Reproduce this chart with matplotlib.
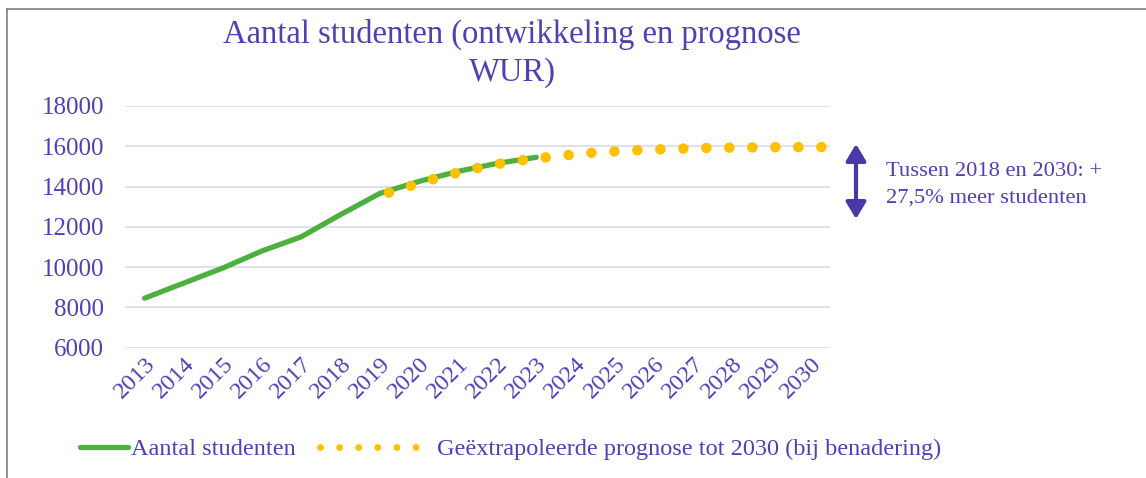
import matplotlib
matplotlib.use("Agg")
import matplotlib.pyplot as plt
from matplotlib.lines import Line2D
from matplotlib.patches import FancyArrowPatch

# student numbers per year (realised) and the extrapolated forecast up to 2030
years = [2013, 2014, 2015, 2016, 2017, 2018, 2019, 2020, 2021, 2022, 2023]
students = [8450, 9200, 9950, 10800, 11500, 12600, 13650, 14250, 14750, 15150, 15450]

prog_years = [2019, 2020, 2021, 2022, 2023, 2024, 2025, 2026, 2027, 2028, 2029, 2030]
prognosis = [13700, 14300, 14820, 15210, 15450, 15660, 15780, 15860, 15915, 15940, 15955, 15960]

all_years = list(range(2013, 2031))
y_ticks = [6000, 8000, 10000, 12000, 14000, 16000, 18000]

title = "Aantal studenten (ontwikkeling en prognose\nWUR)"
note = "Tussen 2018 en 2030: +\n27,5% meer studenten"

PURPLE = "#5040B0"
ARROW = "#4A38A8"
GREEN = "#4CAF3E"
GOLD = "#FFC000"
GRID = "#DCD8F0"

plt.rcParams["font.family"] = ["Liberation Serif", "DejaVu Serif"]

fig = plt.figure(figsize=(11.46, 4.78), dpi=100)
ax = fig.add_axes([125 / 1146, 1 - 347.5 / 478, 705 / 1146, 241.5 / 478])

ax.plot(years, students, color=GREEN, lw=3.8, solid_capstyle="round",
        solid_joinstyle="round", zorder=3)

# forecast on its own x-scale, drawn as round dots
ax2 = ax.twiny()
ax2.plot(prog_years, prognosis, color=GOLD, lw=7.6,
         linestyle=(0, (0.001, 2.178)), dash_capstyle="round", zorder=4)
ax2.set_xlim(2012.31, 2030.18)
ax2.set_ylim(6000, 18000)
ax2.axis("off")

ax.set_xlim(2012.5, 2030.5)
ax.set_ylim(6000, 18000)
ax.set_yticks(y_ticks)
ax.set_yticklabels([str(v) for v in y_ticks], fontsize=18, color=PURPLE)
ax.set_xticks(all_years)
ax.set_xticklabels([str(y) for y in all_years], fontsize=17.5, color=PURPLE,
                   rotation=45, ha="right", va="top", rotation_mode="anchor")
ax.tick_params(axis="both", length=0)
ax.tick_params(axis="y", pad=15)
ax.tick_params(axis="x", pad=4)
ax.grid(axis="y", color=GRID, lw=1.2)
ax.set_axisbelow(True)
for s in ax.spines.values():
    s.set_visible(False)

fig.text(512 / 1146, 1 - 53 / 478, title, ha="center", va="center",
         fontsize=23.5, color=PURPLE, linespacing=1.3)

# double arrow with the growth note
fig.add_artist(FancyArrowPatch(
    (856 / 1146, 1 - 219 / 478), (856 / 1146, 1 - 144 / 478),
    transform=fig.transFigure, arrowstyle="<|-|>,head_length=10,head_width=6",
    color=ARROW, lw=3, mutation_scale=1, shrinkA=0, shrinkB=0))
fig.text(886 / 1146, 1 - 185 / 478, note, ha="left", va="center",
         fontsize=16.2, color=PURPLE, linespacing=1.5)

# legend entries
h1 = Line2D([], [], color=GREEN, lw=3.8, solid_capstyle="round")
h2 = Line2D([], [], color=GOLD, lw=5, linestyle=(0, (0.001, 2.75)),
            dash_capstyle="round")
fig.legend([h1], ["Aantal studenten"], loc="center left",
           bbox_to_anchor=(58 / 1146, 1 - 449 / 478), frameon=False,
           fontsize=17.5, labelcolor=PURPLE, handlelength=2.0, handletextpad=0.1)
fig.legend([h2], ["Geëxtrapoleerde prognose tot 2030 (bij benadering)"],
           loc="center left", bbox_to_anchor=(298 / 1146, 1 - 449 / 478),
           frameon=False, fontsize=17.5, labelcolor=PURPLE, handlelength=4.2,
           handletextpad=0.6)

# chart border (top and left only)
fig.add_artist(Line2D([7 / 1146, 1], [1 - 9 / 478, 1 - 9 / 478],
                      transform=fig.transFigure, color="#7f7f7f", lw=1.2))
fig.add_artist(Line2D([7 / 1146, 7 / 1146], [0, 1 - 9 / 478],
                      transform=fig.transFigure, color="#7f7f7f", lw=1.2))

fig.savefig("out.png", dpi=100)
